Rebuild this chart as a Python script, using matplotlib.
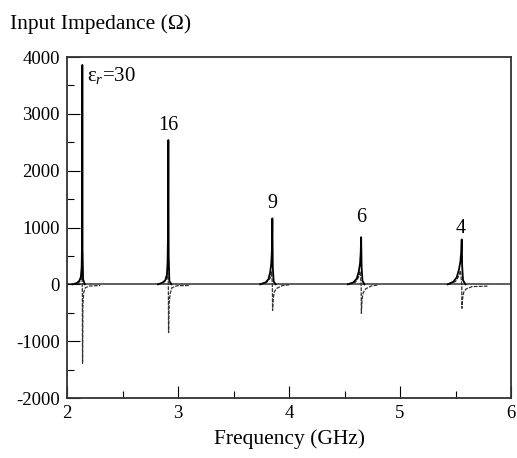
import matplotlib
matplotlib.use("Agg")
import matplotlib.pyplot as plt
from matplotlib.ticker import MultipleLocator, FuncFormatter

plt.rcParams["font.family"] = ["Liberation Serif", "DejaVu Serif"]
plt.rcParams["mathtext.fontset"] = "custom"
plt.rcParams["mathtext.rm"] = "Liberation Serif"
plt.rcParams["mathtext.it"] = "Liberation Serif:italic"

# resonance labels and positions (GHz)
labels = ["30", "16", "9", "6", "4"]
f_res = [2.138, 2.913, 3.85, 4.65, 5.556]

# real part (solid), per resonance: frequency points and ohms
re_f = [
    [2.05, 2.09, 2.11, 2.125, 2.132, 2.136, 2.138, 2.140, 2.145, 2.16],
    [2.82, 2.86, 2.885, 2.90, 2.906, 2.910, 2.913, 2.916, 2.922, 2.94],
    [3.74, 3.79, 3.815, 3.83, 3.840, 3.846, 3.850, 3.854, 3.862, 3.88],
    [4.53, 4.58, 4.61, 4.628, 4.640, 4.646, 4.650, 4.654, 4.662, 4.68],
    [5.43, 5.48, 5.51, 5.530, 5.544, 5.551, 5.556, 5.560, 5.568, 5.59],
]
re_z = [
    [0, 25, 60, 130, 300, 800, 3860, 600, 90, 0],
    [0, 30, 70, 170, 380, 900, 2540, 500, 60, 0],
    [0, 35, 90, 210, 360, 600, 1160, 300, 50, 0],
    [0, 35, 100, 220, 370, 560, 830, 300, 60, 0],
    [0, 45, 120, 250, 400, 560, 790, 320, 70, 0],
]

# imaginary part (dashed)
im_f = [
    [2.05, 2.10, 2.125, 2.134, 2.138, 2.140, 2.143, 2.150, 2.165, 2.20, 2.30],
    [2.82, 2.87, 2.895, 2.907, 2.913, 2.915, 2.920, 2.930, 2.945, 2.99, 3.10],
    [3.74, 3.80, 3.830, 3.843, 3.850, 3.852, 3.858, 3.868, 3.890, 3.94, 4.00],
    [4.54, 4.60, 4.625, 4.640, 4.650, 4.652, 4.658, 4.668, 4.690, 4.74, 4.80],
    [5.44, 5.50, 5.525, 5.545, 5.556, 5.558, 5.564, 5.574, 5.596, 5.65, 5.80],
]
im_z = [
    [0, 20, 70, 180, 0, -1390, -400, -150, -60, -30, -20],
    [0, 30, 90, 200, 0, -850, -330, -160, -60, -25, -20],
    [0, 40, 110, 220, 0, -460, -250, -130, -70, -20, -10],
    [0, 40, 120, 230, 0, -510, -270, -150, -80, -30, -10],
    [0, 50, 130, 240, 0, -420, -250, -140, -80, -40, -30],
]

fig = plt.figure(figsize=(5.17, 4.58), dpi=100)
ax = fig.add_axes([0.1296, 0.131, 0.8588, 0.7445])

ax.axhline(0, color="#444444", lw=1.2, zorder=1)
for i in range(len(labels)):
    ax.plot(im_f[i], im_z[i], color="#333333", lw=0.9, ls=(0, (3, 1)), zorder=2)
    ax.plot(re_f[i], re_z[i], color="black", lw=1.3, zorder=3)

ax.set_xlim(2, 6)
ax.set_ylim(-2000, 4000)
ax.xaxis.set_major_locator(MultipleLocator(1))
ax.xaxis.set_minor_locator(MultipleLocator(0.5))
ax.yaxis.set_major_locator(MultipleLocator(1000))
ax.yaxis.set_minor_locator(MultipleLocator(500))
ax.yaxis.set_major_formatter(FuncFormatter(lambda v, p: f"{int(v)}".replace("\u2212", "-")))
ax.tick_params(which="both", direction="in", width=0.8, labelsize=13.5, pad=5)
ax.tick_params(which="major", length=9)
ax.tick_params(which="minor", length=5)
for s in ax.spines.values():
    s.set_linewidth(1.3)
    s.set_color("#333333")

ax.set_xlabel("Frequency (GHz)", fontsize=15.5, labelpad=5)
fig.text(0.02, 0.948, "Input Impedance (\u03a9)", fontsize=15.5, ha="left", va="center")

# resonance labels
lab_y = [3680, 2800, 1430, 1180, 990]
lab_dx = [0.04, 0.0, 0.0, 0.0, -0.01]
for i, t in enumerate(labels):
    txt = "\u03b5$_r$=" + t if i == 0 else t
    ax.text(f_res[i] + lab_dx[i], lab_y[i], txt, fontsize=15 if i == 0 else 14.5,
            ha="left" if i == 0 else "center", va="center")

fig.savefig("out.png", dpi=100)
